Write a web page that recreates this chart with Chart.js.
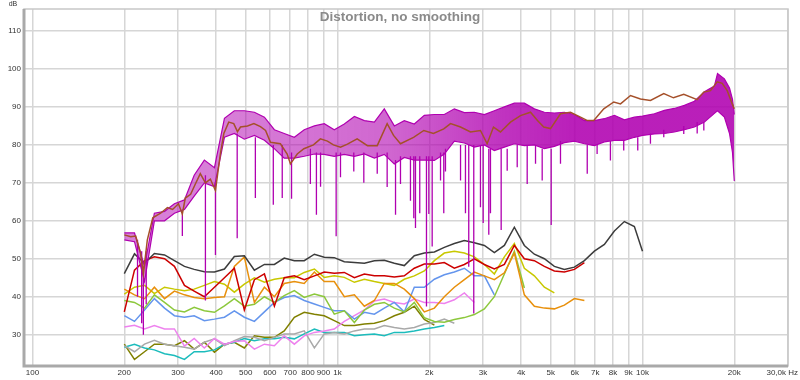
<!DOCTYPE html>
<html>
<head>
<meta charset="utf-8">
<title>Distortion, no smoothing</title>
<script src="https://cdn.jsdelivr.net/npm/chart.js@4.4.1/dist/chart.umd.min.js"></script>
<style>
  html, body { margin: 0; padding: 0; background: #fff; }
</style>
</head>
<body>
<canvas id="chart" width="800" height="380"></canvas>
<script>
// --- axis ticks
const xTickValues = [100, 200, 300, 400, 500, 600, 700, 800, 900, 1000, 2000, 3000, 4000, 5000, 6000, 7000, 8000, 9000, 10000, 20000, 30000];
const xTickLabels = ['100', '200', '300', '400', '500', '600', '700', '800', '900', '1k', '2k', '3k', '4k', '5k', '6k', '7k', '8k', '9k', '10k', '20k', '30,0k Hz'];
const yTickValues = [30, 40, 50, 60, 70, 80, 90, 100, 110];

// --- frequency grid (Hz) shared by the harmonic traces
const gridFreq = [200, 216, 233, 251, 271, 292, 315, 339, 366, 395,
  426, 459, 495, 534, 576, 621, 669, 722, 778, 840,
  905, 976, 1053, 1136, 1225, 1321, 1424, 1536, 1656, 1786,
  1926, 2078, 2240, 2416, 2606, 2810, 3031, 3268, 3525, 3801,
  4099, 4421, 4768, 5141, 5545, 5980, 6449, 6955, 7500, 8088,
  8723, 9407, 10000];

// --- harmonic traces (dB), one value per gridFreq entry
const thd = [46.1, 51.3, 48.8, 51.4, 51.0, 49.5, 48.0, 47.2, 46.6, 46.5,
  47.3, 50.6, 50.8, 47.0, 48.5, 48.5, 50.2, 49.5, 49.5, 51.2,
  50.4, 50.3, 49.2, 49.0, 48.8, 49.5, 49.6, 48.8, 48.2, 50.8,
  51.5, 51.8, 53.0, 54.0, 54.8, 54.2, 53.5, 51.6, 53.5, 58.3,
  53.5, 51.2, 50.0, 48.0, 47.2, 47.8, 49.5, 52.0, 53.8, 57.3,
  59.8, 58.5, 52.0];
const h2 = [36.0, 47.0, 49.5, 50.5, 50.0, 48.0, 43.0, 41.5, 40.0, 42.5,
  45.0, 47.5, 36.5, 44.5, 46.0, 37.5, 45.0, 45.5, 44.5, 45.5,
  46.5, 46.2, 46.4, 45.0, 46.0, 45.5, 45.5, 45.2, 45.5, 47.5,
  48.6, 48.6, 49.0, 47.5, 48.5, 50.0, 48.5, 47.3, 48.5, 53.5,
  50.0, 49.5, 48.0, 46.8, 46.5, 47.2, 49.0];
const h3 = [42.0, 40.5, 39.5, 42.5, 39.5, 41.5, 40.5, 39.8, 39.5, 39.8,
  40.0, 48.0, 50.5, 38.5, 42.5, 40.0, 43.5, 44.0, 43.5, 46.5,
  44.0, 44.0, 40.0, 40.5, 37.5, 39.0, 43.5, 43.5, 42.0, 39.5,
  36.0, 37.0, 40.0, 42.5, 44.5, 46.5, 45.5, 44.5, 46.3, 51.5,
  40.5, 37.5, 37.0, 36.8, 37.8, 39.5, 39.0];
const h4 = [40.7, 42.5, 43.0, 40.8, 42.5, 42.0, 41.6, 42.0, 43.0, 44.0,
  43.3, 41.2, 43.3, 45.0, 43.8, 44.6, 45.0, 45.0, 46.4, 47.3,
  45.1, 45.5, 45.1, 43.8, 44.6, 44.0, 43.5, 43.0, 44.6, 45.5,
  46.8, 49.5, 51.5, 52.0, 51.5, 50.5, 48.5, 46.0, 50.5, 54.0,
  47.5, 45.5, 42.5, 41.0];
const h5 = [39.0, 38.5, 37.0, 40.5, 38.5, 36.5, 36.0, 37.2, 36.3, 35.9,
  37.6, 39.5, 37.5, 38.0, 40.0, 38.5, 40.3, 41.6, 39.8, 40.7,
  40.0, 35.4, 36.3, 33.2, 36.5, 38.0, 38.5, 37.0, 36.0, 38.5,
  34.5, 33.5, 33.3, 34.0, 34.5, 35.3, 36.8, 40.0, 46.0, 52.0,
  42.3];
const h6 = [35.0, 33.5, 36.5, 39.5, 37.0, 35.0, 34.6, 35.0, 33.7, 34.1,
  34.6, 36.3, 34.6, 33.5, 36.0, 38.5, 39.8, 40.3, 39.0, 38.1,
  37.2, 36.3, 36.3, 34.1, 35.9, 35.4, 37.0, 38.5, 36.0, 42.5,
  42.5, 44.6, 45.8, 46.5, 47.5, 45.5, 45.5, 40.5];
const h7 = [32.0, 32.5, 31.5, 32.4, 31.5, 31.5, 27.0, 29.0, 26.5, 29.0,
  27.5, 28.2, 28.4, 26.2, 27.5, 27.1, 29.7, 27.5, 29.7, 30.6,
  31.0, 31.5, 33.5, 35.0, 36.5, 38.9, 39.4, 38.5, 38.1, 39.4,
  38.5, 38.5, 38.2, 39.2, 41.0, 38.5];
const h8 = [27.1, 25.5, 27.5, 28.5, 27.5, 27.1, 26.7, 26.2, 28.0, 28.9,
  27.1, 28.4, 29.5, 29.3, 28.4, 29.3, 30.2, 30.2, 31.0, 26.5,
  30.2, 30.6, 30.2, 31.0, 31.5, 31.5, 32.4, 31.9, 31.5, 31.9,
  32.8, 33.2, 34.1, 33.0];
const h9 = [26.7, 27.5, 26.5, 26.0, 25.0, 24.5, 23.5, 25.5, 25.5, 26.0,
  27.5, 28.0, 29.0, 28.4, 28.9, 28.9, 29.3, 28.9, 30.2, 31.5,
  30.6, 30.6, 30.6, 29.7, 30.0, 30.2, 29.7, 30.6, 30.6, 31.0,
  31.5, 31.9, 32.4];
const h10 = [27.5, 23.5, 25.5, 27.5, 27.5, 27.1, 28.4, 26.2, 28.0, 25.4,
  27.5, 28.0, 26.5, 29.7, 29.3, 29.3, 31.0, 34.6, 35.9, 35.4,
  35.0, 33.7, 32.4, 32.4, 32.8, 33.0, 33.7, 35.0, 35.9, 37.5,
  34.0, 32.5];

// --- unsmoothed trace: upper / lower edge of the dense band (dB)
const magHighFreq = [10940, 11800, 12720, 13720, 14800, 15960, 17210, 17620, 18560, 19290, 19730, 20000];
const magUpper = [56.8, 56.8, 48.0, 62.0, 62.5, 64.5, 65.5, 72.0, 76.0, 74.0,
  87.0, 89.0, 89.0, 88.6, 87.3, 84.0, 83.0, 82.0, 84.0, 85.0,
  85.6, 84.0, 85.5, 87.5, 86.4, 86.0, 89.5, 85.0, 86.4, 85.5,
  87.8, 88.0, 88.0, 89.5, 88.5, 88.6, 88.0, 89.0, 90.0, 91.0,
  91.0, 89.5, 88.6, 88.4, 88.6, 88.0, 86.4, 86.4, 86.9, 87.8,
  86.6, 87.3, 87.6,
  88.2, 89.1, 89.6, 90.4, 91.5, 94.0, 95.5, 98.8, 97.4, 95.0, 92.0, 88.0];
const magLower = [55.0, 54.5, 44.0, 60.0, 60.0, 62.0, 63.0, 66.5, 70.0, 69.0,
  82.0, 83.0, 81.5, 82.5, 81.2, 79.0, 76.5, 76.5, 77.0, 77.6,
  77.5, 77.0, 77.5, 77.0, 77.6, 76.5, 77.5, 75.0, 76.7, 76.0,
  76.0, 75.9, 77.6, 81.0, 80.5, 79.4, 80.0, 78.5, 79.4, 80.3,
  79.8, 80.0, 79.0, 79.6, 80.6, 81.0, 80.3, 79.8, 80.8, 81.2,
  81.2, 82.0, 82.5,
  82.9, 83.0, 83.4, 84.0, 84.7, 86.0, 88.3, 89.0, 87.3, 83.0, 78.0, 70.5];
// dips of the unsmoothed trace: [Hz, from dB, down to dB]
const magDips = [[221, 55, 40], [228, 52, 33], [231, 48, 30], [236, 52, 38], [310, 62, 56],
  [369, 72, 39], [398, 70, 51], [469, 83, 55.4], [538, 82, 66], [616, 80, 64.2],
  [659, 80, 66], [707, 78, 65.8], [815, 79, 69.7], [853, 78, 61.6], [880, 78, 69], [990, 78, 55.9],
  [1023, 78, 71.5], [1131, 78, 73], [1220, 78, 70], [1350, 78, 72.4], [1455, 78, 68.9],
  [1550, 76, 61.6], [1609, 77, 69.7], [1735, 77, 65.3], [1779, 77, 60.7], [1802, 77, 58.1],
  [1861, 77, 62], [1958, 77, 37.4], [1993, 77, 61.8], [2044, 77, 53.2], [2177, 78, 70.6],
  [2231, 78, 62], [2260, 79, 73], [2532, 80, 70.6], [2628, 80, 62], [2694, 80, 47.9], [2798, 80, 35.6],
  [2943, 80, 63.6], [3004, 80, 59.4], [3134, 79, 56.3], [3174, 79, 62], [3441, 79, 57.6],
  [3601, 79, 73.2], [3884, 80, 74.1], [4188, 80, 69.7], [4460, 80, 75], [4690, 79, 70.6],
  [5020, 79, 58.9], [5385, 81, 75], [6590, 80, 72.4], [7100, 80, 77.6], [7850, 81, 75.9], [8680, 81, 78.5],
  [9650, 82, 78.5], [10620, 83, 80.3], [11744, 84, 82], [13657, 85, 82.9], [15113, 86, 83], [15890, 86, 83.8]];

// --- smoothed trace: [Hz, dB]
const smoothed = [[200, 56.3], [210, 55.8], [218, 56], [226, 51.6], [231, 46], [238, 55], [248, 60.8],
  [263, 62], [277, 63.5], [288, 63], [301, 64.5], [310, 61.8], [317, 66], [330, 67], [342, 69.7],
  [355, 72.4], [369, 70], [383, 71], [398, 68], [413, 77.6], [424, 83], [440, 86], [457, 85.6],
  [470, 83.5], [481, 84.7], [507, 85], [532, 85.6], [559, 84.8], [581, 83.8], [603, 80.7],
  [650, 80.3], [684, 77.6], [701, 75], [738, 77.6], [776, 79], [834, 80], [879, 81.6], [927, 81],
  [970, 80], [1023, 79.4], [1078, 80.2], [1160, 81.6], [1254, 79.8], [1350, 79.8], [1455, 85.6],
  [1527, 82.5], [1609, 80.3], [1776, 82], [1919, 83.8], [2064, 83], [2231, 84.2], [2348, 85.6],
  [2532, 84.7], [2730, 83.4], [2943, 83.8], [3095, 80.3], [3247, 84.7], [3422, 83.4], [3692, 86],
  [3981, 87.7], [4294, 88.6], [4526, 86.4], [4747, 84.7], [4994, 84.3], [5385, 88.2], [5806, 88.6],
  [6262, 87.3], [6601, 86.4], [6923, 86.4], [7466, 89.5], [8051, 91.3], [8472, 90.8], [9136, 93],
  [9850, 92.1], [10622, 91.7], [11744, 93.5], [12636, 92.4], [13657, 93.3], [15113, 91.9],
  [15888, 93.9], [16711, 94.3], [17580, 96.6], [18256, 96.2], [18958, 94.3], [19690, 90.8], [20000, 89.5]];

const MAGENTA = '#b000b0';

function gridSeries(values, freqs) {
  return values.map((y, i) => ({ x: freqs[i], y }));
}

function dipSeries(list) {
  const pts = [];
  list.forEach(([f, top, bottom]) => {
    pts.push({ x: f, y: top }, { x: f, y: bottom }, { x: f, y: null });
  });
  return pts;
}

function lineSet(label, data, color, extra) {
  return Object.assign({
    label,
    data,
    borderColor: color,
    borderWidth: 1.5,
    pointRadius: 0,
    fill: false,
    tension: 0
  }, extra || {});
}

// band gets denser towards the top end
function bandFill(c) {
  const { chart } = c;
  const { ctx, chartArea: a, scales } = chart;
  if (!a) return 'rgba(176,0,176,0.7)';
  const g = ctx.createLinearGradient(a.left, 0, a.right, 0);
  const pos = f => (scales.x.getPixelForValue(f) - a.left) / (a.right - a.left);
  g.addColorStop(pos(420), 'rgba(176,0,176,0.5)');
  g.addColorStop(pos(1500), 'rgba(176,0,176,0.6)');
  g.addColorStop(pos(3500), 'rgba(176,0,176,0.8)');
  g.addColorStop(pos(6000), 'rgba(176,0,176,0.88)');
  return g;
}

// frame, x labels, title
const decor = {
  id: 'decor',
  afterDraw(chart) {
    const { ctx, chartArea: a, scales } = chart;
    ctx.save();
    ctx.strokeStyle = '#c8c8c8';
    ctx.lineWidth = 1.5;
    ctx.strokeRect(a.left, a.top, a.right - a.left, a.bottom - a.top);
    ctx.strokeStyle = '#a9a9a9';
    ctx.lineWidth = 3;
    ctx.beginPath();
    ctx.moveTo(a.left, a.top);
    ctx.lineTo(a.left, a.bottom);
    ctx.lineTo(a.right, a.bottom);
    ctx.stroke();

    ctx.font = '8px "Liberation Sans", Arial, sans-serif';
    ctx.fillStyle = '#333';
    ctx.textBaseline = 'middle';
    xTickValues.forEach((v, i) => {
      const px = scales.x.getPixelForValue(v);
      const last = i === xTickValues.length - 1;
      ctx.textAlign = last ? 'right' : 'center';
      ctx.fillText(xTickLabels[i], last ? 798 : px, a.bottom + 7);
    });
    ctx.textAlign = 'center';
    ctx.font = '7px "Liberation Sans", Arial, sans-serif';
    ctx.fillText('dB', 13, 4);

    ctx.font = 'bold 13.5px "Liberation Sans", Arial, sans-serif';
    ctx.fillStyle = '#8a8a8a';
    ctx.fillText('Distortion, no smoothing', 400, 17);
    ctx.restore();
  }
};

function displayChart() {
  const ctx = document.getElementById('chart');
  const magFreq = gridFreq.concat(magHighFreq);

  const datasets = [
    lineSet('Smoothed', smoothed.map(([x, y]) => ({ x, y })), '#a5502a'),
    lineSet('Dips', dipSeries(magDips), MAGENTA, { borderWidth: 1.3, spanGaps: false }),
    lineSet('No smoothing upper', gridSeries(magUpper, magFreq), MAGENTA, { borderWidth: 1.2 }),
    lineSet('No smoothing lower', gridSeries(magLower, magFreq), MAGENTA,
      { borderWidth: 1.2, fill: '-1', backgroundColor: bandFill }),
    lineSet('THD', gridSeries(thd, gridFreq), '#3c3c3c'),
    lineSet('H2', gridSeries(h2, gridFreq), '#cc0000'),
    lineSet('H3', gridSeries(h3, gridFreq), '#e8900c'),
    lineSet('H4', gridSeries(h4, gridFreq), '#c8c800'),
    lineSet('H5', gridSeries(h5, gridFreq), '#8cc83c'),
    lineSet('H6', gridSeries(h6, gridFreq), '#6495ed'),
    lineSet('H7', gridSeries(h7, gridFreq), '#ee82ee'),
    lineSet('H8', gridSeries(h8, gridFreq), '#a9a9a9'),
    lineSet('H9', gridSeries(h9, gridFreq), '#1cbcbc'),
    lineSet('H10', gridSeries(h10, gridFreq), '#808000')
  ];

  new Chart(ctx, {
    type: 'line',
    data: { datasets },
    options: {
      responsive: false,
      animation: false,
      layout: { padding: { top: 9, right: 12, left: 0, bottom: 0 } },
      plugins: {
        legend: { display: false },
        tooltip: { enabled: false },
        title: { display: false }
      },
      scales: {
        x: {
          type: 'logarithmic',
          min: 93.8,
          max: 30000,
          ticks: { display: false },
          grid: { color: '#d6d6d6', lineWidth: 1.5, drawTicks: false },
          border: { display: false },
          afterBuildTicks: s => { s.ticks = xTickValues.map(v => ({ value: v })); },
          afterFit: s => { s.height = 14; s.paddingLeft = 0; s.paddingRight = 0; }
        },
        y: {
          type: 'linear',
          min: 21.75,
          max: 115.8,
          ticks: {
            padding: 3,
            color: '#333',
            font: { family: '"Liberation Sans", Arial, sans-serif', size: 8 },
            callback: v => String(v)
          },
          grid: { color: '#d6d6d6', lineWidth: 1.5, drawTicks: false },
          border: { display: false },
          afterBuildTicks: s => { s.ticks = yTickValues.map(v => ({ value: v })); },
          afterFit: s => { s.width = 24; s.paddingTop = 0; s.paddingBottom = 0; }
        }
      }
    },
    plugins: [decor]
  });
}

displayChart();
</script>
</body>
</html>
